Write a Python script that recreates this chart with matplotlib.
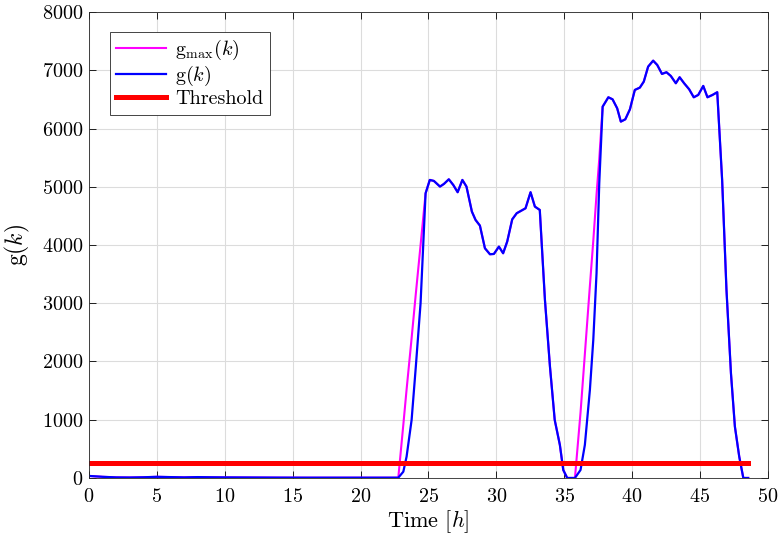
import numpy as np
import matplotlib
matplotlib.use("Agg")
import matplotlib.pyplot as plt

# time [h] and g(k)
t = [0, 1, 2, 3, 4, 5, 6, 7, 8, 9, 10, 12, 14, 16, 18, 20, 22, 22.78,
     23.15, 23.39, 23.76, 24.07, 24.42, 24.79, 25.1, 25.4, 25.85, 26.14, 26.5,
     26.83, 27.15, 27.5, 27.8, 28.2, 28.47, 28.79, 29.16, 29.53, 29.82, 30.19,
     30.5, 30.8, 31.17, 31.5, 32.15, 32.52, 32.84, 33.2, 33.58, 33.95, 34.3,
     34.68, 34.93, 35.22, 35.79, 36.2, 36.52, 36.89, 37.14, 37.38, 37.58,
     37.83, 38.25, 38.56, 38.9, 39.17, 39.5, 39.84, 40.2, 40.57, 40.86, 41.18,
     41.55, 41.85, 42.2, 42.53, 42.85, 43.22, 43.5, 43.83, 44.2, 44.54, 44.87,
     45.24, 45.55, 45.92, 46.27, 46.63, 46.95, 47.28, 47.57, 47.89, 48.19,
     48.55]
g = [35, 20, 10, 8, 12, 20, 15, 10, 15, 12, 10, 8, 6, 5, 5, 5, 5, 5,
     108, 366, 996, 1911, 3000, 4888, 5117, 5100, 5003, 5048, 5128,
     5030, 4906, 5117, 5003, 4573, 4430, 4333, 3944, 3841, 3846, 3972,
     3858, 4058, 4440, 4545, 4630, 4906, 4659, 4602, 3056, 1911, 996,
     567, 137, 0, 0, 137, 567, 1511, 2369, 3514, 5059,
     6375, 6536, 6501, 6347, 6118, 6158, 6330, 6662, 6702, 6805, 7062,
     7165, 7091, 6937, 6966, 6902, 6777, 6880, 6777, 6674, 6536, 6576,
     6731, 6536, 6576, 6623, 5117, 3228, 1797, 882, 366, 0,
     0]
# g_max differs from g only on the two rising edges
gmax_rise_t = [23.15, 23.39, 23.76, 24.07, 24.42,
               36.2, 36.52, 36.89, 37.14, 37.38, 37.58]
gmax_rise_v = [915, 1518, 2400, 3163, 3997,
               1121, 2127, 3297, 4070, 4866, 5476]
threshold = 250
threshold_t = [0, 48.5]

t = np.array(t)
g = np.array(g, dtype=float)
gmax = g.copy()
for tt, vv in zip(gmax_rise_t, gmax_rise_v):
    gmax[np.argmin(np.abs(t - tt))] = vv

plt.rcParams['font.family'] = 'serif'
plt.rcParams['font.serif'] = ['cmr10']
plt.rcParams['mathtext.fontset'] = 'cm'
plt.rcParams['axes.formatter.use_mathtext'] = True

fig = plt.figure(figsize=(7.78, 5.41), dpi=100)
ax = fig.add_axes([0.1144, 0.1165, 0.8726, 0.8613])

ax.plot(t, gmax, color=(1, 0, 1), lw=1.5, label=r'$\mathrm{g}_{\max}(k)$')
ax.plot(t, g, color=(0, 0, 1), lw=1.6, label=r'$\mathrm{g}(k)$')
ax.plot(threshold_t, [threshold, threshold], color=(1, 0, 0), lw=3.6,
        label='Threshold')

ax.set_xlim(0, 50)
ax.set_ylim(0, 8000)
ax.set_xticks(range(0, 51, 5))
ax.set_yticks(range(0, 8001, 1000))
ax.tick_params(direction='in', labelsize=14.5, length=5, width=0.6,
               top=True, right=True, pad=4)
ax.tick_params(axis='x', pad=7)
ax.grid(True, color='#dcdcdc', lw=0.8)
ax.set_axisbelow(True)
for s in ax.spines.values():
    s.set_linewidth(0.6)
    s.set_color('#262626')

ax.set_xlabel(r'Time $[h]$', fontsize=16, labelpad=2)
ax.set_ylabel(r'$\mathrm{g}(k)$', fontsize=17, labelpad=7)

leg = ax.legend(loc='upper left', bbox_to_anchor=(0.031, 0.957),
                borderaxespad=0, fontsize=14.5, fancybox=False, framealpha=1,
                edgecolor='#262626', handlelength=2.5, labelspacing=0.1,
                borderpad=0.3, handletextpad=0.45)
leg.get_frame().set_linewidth(0.6)

plt.savefig('out.png', dpi=100)
